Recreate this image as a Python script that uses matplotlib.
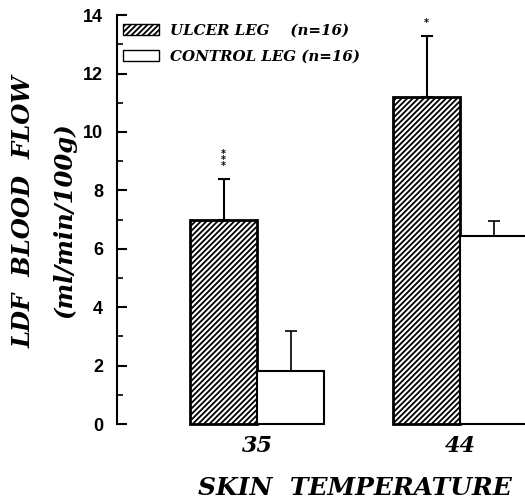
import numpy as np
import matplotlib
matplotlib.use("Agg")
import matplotlib.pyplot as plt
from matplotlib.patches import Patch
from matplotlib.ticker import MultipleLocator

# data
temps = ["35", "44"]
ulcer_mean = [7.0, 11.2]
ulcer_sem = [1.4, 2.1]
control_mean = [1.8, 6.45]
control_sem = [1.4, 0.5]
ulcer_stars = ["*\n*\n*", "*"]

plt.rcParams['hatch.linewidth'] = 1.3
serif = dict(fontstyle='italic', fontweight='bold', family='DejaVu Serif')

fig = plt.figure(figsize=(5.25, 5.03), dpi=100)
ax = fig.add_axes([0.223, 0.157, 0.777, 0.813])

x = np.arange(len(temps))
w = 0.33

ax.bar(x - w / 2, ulcer_mean, w, color='white', edgecolor='black',
       hatch='//////', linewidth=2, clip_on=False, zorder=2)
ax.bar(x + w / 2, control_mean, w, color='white', edgecolor='black',
       linewidth=1.5, clip_on=False, zorder=2)

# one-sided error bars
ax.errorbar(x - w / 2, ulcer_mean, yerr=[np.zeros(2), ulcer_sem], fmt='none',
            ecolor='black', elinewidth=1.5, capsize=4, capthick=1.5, zorder=3)
ax.errorbar(x + w / 2, control_mean, yerr=[np.zeros(2), control_sem], fmt='none',
            ecolor='black', elinewidth=1.2, capsize=4, capthick=1.2, zorder=3)

for xi, m, s, st in zip(x - w / 2, ulcer_mean, ulcer_sem, ulcer_stars):
    ax.text(xi, m + s + 0.25, st, ha='center', va='bottom', fontsize=7,
            fontweight='bold', linespacing=0.55)

ax.set_xlim(-0.69, 1.32)
ax.set_ylim(0, 14)
ax.set_xticks(x)
ax.set_xticklabels(temps, fontsize=16, **serif)
ax.tick_params(axis='x', length=0, pad=8)
ax.yaxis.set_major_locator(MultipleLocator(2))
ax.yaxis.set_minor_locator(MultipleLocator(1))
ax.tick_params(axis='y', which='major', direction='in', length=7, width=1.5,
               labelsize=13, pad=10)
ax.tick_params(axis='y', which='minor', direction='in', length=4, width=1.2)
for lab in ax.get_yticklabels():
    lab.set_fontweight('bold')
    lab.set_family('Liberation Sans')

for s in ['top', 'right', 'bottom']:
    ax.spines[s].set_visible(False)
ax.spines['left'].set_linewidth(1.5)

ax.set_xlabel("SKIN  TEMPERATURE", fontsize=18, **serif)
ax.xaxis.set_label_coords(0.582, -0.128)
fig.text(0.045, 0.579, "LDF  BLOOD  FLOW", rotation=90, ha='center', va='center',
         fontsize=17.5, **serif)
fig.text(0.122, 0.562, "(ml/min/100g)", rotation=90, ha='center', va='center',
         fontsize=17.5, **serif)

handles = [Patch(facecolor='white', edgecolor='black', hatch='//////', linewidth=1),
           Patch(facecolor='white', edgecolor='black', linewidth=1)]
ax.legend(handles, ["ULCER LEG    (n=16)", "CONTROL LEG (n=16)"],
          loc='upper left', bbox_to_anchor=(0.0, 0.993), frameon=False,
          handlelength=2.4, handleheight=0.8, handletextpad=0.7,
          labelspacing=0.77, borderaxespad=0.0,
          prop={'family': 'DejaVu Serif', 'style': 'italic', 'weight': 'bold',
                'size': 10.8})

fig.savefig("out.png", dpi=100)
